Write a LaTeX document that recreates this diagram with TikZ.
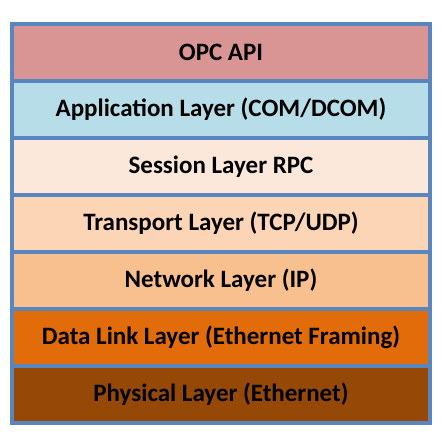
\documentclass[tikz,border=0pt]{standalone}
\usepackage{fontspec}
\setmainfont{Carlito}
\definecolor{edge}{HTML}{5A86BF}
\definecolor{cOPC}{HTML}{D99594}
\definecolor{cApp}{HTML}{B7DDE8}
\definecolor{cSes}{HTML}{FCE8DA}
\definecolor{cTra}{HTML}{FBD5B5}
\definecolor{cNet}{HTML}{F9C08F}
\definecolor{cDat}{HTML}{E36C0A}
\definecolor{cPhy}{HTML}{964807}
\begin{document}
\begin{tikzpicture}[x=1pt,y=-1pt,
  layer/.style={draw=edge,line width=4pt,minimum width=418pt,minimum height=57pt,
    inner sep=0pt,font=\fontsize{25}{29}\selectfont\bfseries,text=black,anchor=north west}]
\useasboundingbox (0,0) rectangle (447,443);
\fill[white] (0,0) rectangle (447,443);
\node[layer,fill=cOPC] (opc) at (10,22) {OPC API};
\node[layer,fill=cApp] (app) at (10,79) {Application Layer (COM/DCOM)};
\node[layer,fill=cSes] (ses) at (10,136) {Session Layer RPC};
\node[layer,fill=cTra] (tra) at (10,193) {Transport Layer (TCP/UDP)};
\node[layer,fill=cNet] (net) at (10,250) {Network Layer (IP)};
\node[layer,fill=cDat] (dat) at (10,307) {Data Link Layer (Ethernet Framing)};
\node[layer,fill=cPhy] (phy) at (10,364) {Physical Layer (Ethernet)};
\end{tikzpicture}
\end{document}
